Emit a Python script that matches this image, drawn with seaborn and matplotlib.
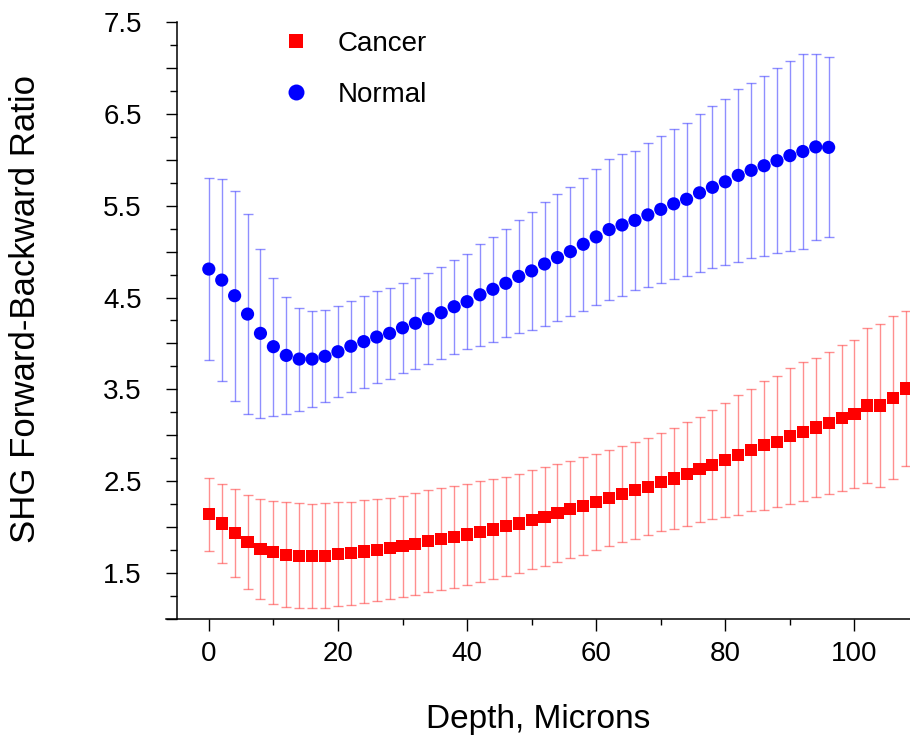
import matplotlib
matplotlib.use("Agg")
import matplotlib.pyplot as plt
from matplotlib.ticker import MultipleLocator, FuncFormatter
from matplotlib.lines import Line2D
import seaborn as sns
import pandas as pd

# ---------------- data ----------------
normal_depth = [0, 2, 4, 6, 8, 10, 12, 14, 16, 18, 20, 22, 24, 26, 28, 30, 32, 34,
                36, 38, 40, 42, 44, 46, 48, 50, 52, 54, 56, 58, 60, 62, 64, 66, 68,
                70, 72, 74, 76, 78, 80, 82, 84, 86, 88, 90, 92, 94, 96]
normal_mean = [4.81, 4.69, 4.52, 4.32, 4.11, 3.965, 3.87, 3.83, 3.83, 3.86,
               3.91, 3.97, 4.02, 4.07, 4.11, 4.17, 4.22, 4.27, 4.335, 4.40,
               4.455, 4.53, 4.59, 4.655, 4.73, 4.79, 4.865, 4.935, 5.00, 5.08,
               5.16, 5.24, 5.29, 5.34, 5.40, 5.46, 5.52, 5.57, 5.64, 5.70,
               5.76, 5.83, 5.885, 5.935, 5.99, 6.045, 6.09, 6.14, 6.135]
normal_sd = [0.99, 1.10, 1.145, 1.085, 0.92, 0.75, 0.635, 0.56, 0.52, 0.50,
             0.495, 0.495, 0.50, 0.50, 0.495, 0.49, 0.495, 0.495, 0.50, 0.51,
             0.52, 0.555, 0.57, 0.59, 0.615, 0.645, 0.67, 0.69, 0.70, 0.725,
             0.74, 0.77, 0.77, 0.76, 0.78, 0.80, 0.815, 0.835, 0.86, 0.88,
             0.905, 0.94, 0.955, 0.98, 1.005, 1.035, 1.06, 1.015, 0.98]

cancer_depth = [0, 2, 4, 6, 8, 10, 12, 14, 16, 18, 20, 22, 24, 26, 28, 30, 32, 34,
                36, 38, 40, 42, 44, 46, 48, 50, 52, 54, 56, 58, 60, 62, 64, 66, 68,
                70, 72, 74, 76, 78, 80, 82, 84, 86, 88, 90, 92, 94, 96, 98, 100,
                102, 104, 106, 108]
cancer_mean = [2.14, 2.04, 1.935, 1.84, 1.765, 1.725, 1.70, 1.69, 1.685, 1.69,
               1.705, 1.715, 1.735, 1.75, 1.77, 1.79, 1.815, 1.845, 1.87, 1.895,
               1.92, 1.95, 1.975, 2.01, 2.04, 2.08, 2.115, 2.155, 2.195, 2.23,
               2.275, 2.315, 2.36, 2.40, 2.44, 2.49, 2.53, 2.58, 2.63, 2.68,
               2.73, 2.785, 2.84, 2.89, 2.93, 2.99, 3.04, 3.085, 3.135, 3.19,
               3.235, 3.325, 3.325, 3.41, 3.51]
cancer_sd = [0.40, 0.43, 0.475, 0.515, 0.545, 0.565, 0.57, 0.57, 0.57, 0.57,
             0.567, 0.562, 0.558, 0.552, 0.552, 0.554, 0.554, 0.556, 0.554, 0.557,
             0.552, 0.548, 0.544, 0.539, 0.537, 0.537, 0.536, 0.534, 0.53, 0.532,
             0.526, 0.523, 0.523, 0.526, 0.53, 0.537, 0.553, 0.563, 0.572, 0.596,
             0.624, 0.65, 0.668, 0.70, 0.715, 0.738, 0.755, 0.76, 0.777, 0.793,
             0.804, 0.84, 0.886, 0.888, 0.84]

series_labels = ["Cancer", "Normal"]
x_label = "Depth, Microns"
y_label = "SHG Forward-Backward Ratio"

# ---------------- style ----------------
sns.set_style("ticks")
plt.rcParams["font.family"] = ["Liberation Sans", "DejaVu Sans"]
for key in ("text.color", "axes.labelcolor", "xtick.color", "ytick.color",
            "axes.edgecolor"):
    plt.rcParams[key] = "black"

fig = plt.figure(figsize=(9.1, 7.36), dpi=100)
ax = fig.add_axes([166 / 910, 117 / 736, 744 / 910, 597 / 736])

df_c = pd.DataFrame({"depth": cancer_depth, "ratio": cancer_mean, "sd": cancer_sd})
df_n = pd.DataFrame({"depth": normal_depth, "ratio": normal_mean, "sd": normal_sd})

# error bars
ax.errorbar(df_c["depth"], df_c["ratio"], yerr=df_c["sd"], fmt="none",
            ecolor=(1.0, 0.2, 0.2, 0.55), elinewidth=1.0, capsize=3.6,
            capthick=1.0, zorder=1)
ax.errorbar(df_n["depth"], df_n["ratio"], yerr=df_n["sd"], fmt="none",
            ecolor=(0.2, 0.2, 1.0, 0.55), elinewidth=1.0, capsize=3.6,
            capthick=1.0, zorder=1)

# markers
sns.scatterplot(data=df_c, x="depth", y="ratio", ax=ax, marker="s", s=76,
                color="#ff0000", edgecolor="none", linewidth=0, zorder=3,
                legend=False)
sns.scatterplot(data=df_n, x="depth", y="ratio", ax=ax, marker="o", s=90,
                color="#0000ff", edgecolor="none", linewidth=0, zorder=3,
                legend=False)

# axes limits / spines
ax.set_xlim(-6.63, 108.6)
ax.set_ylim(1.0, 7.5)
sns.despine(ax=ax)
ax.spines["left"].set_position(("data", -5))
for sp in ("left", "bottom"):
    ax.spines[sp].set_color("black")
    ax.spines[sp].set_linewidth(1.1)

ax.xaxis.set_major_locator(MultipleLocator(20))
ax.xaxis.set_minor_locator(MultipleLocator(10))
ax.yaxis.set_major_locator(MultipleLocator(0.5))
ax.yaxis.set_minor_locator(MultipleLocator(0.25))


def yfmt(v, pos):
    if abs((v * 2) % 2 - 1) < 1e-6:
        return f"{v:.1f}"
    return ""


ax.yaxis.set_major_formatter(FuncFormatter(yfmt))

ax.tick_params(axis="x", which="major", direction="out", length=8.6, width=1.0,
               pad=7, labelsize=20, colors="black")
ax.tick_params(axis="x", which="minor", direction="out", length=4.5, width=1.0)
ax.tick_params(axis="y", which="major", direction="out", length=8.0, width=1.0,
               pad=17, labelsize=20, colors="black")
ax.tick_params(axis="y", which="minor", direction="out", length=5.0, width=1.0)

ax.set_xlabel(x_label, fontsize=24, labelpad=27)
ax.set_ylabel(y_label, fontsize=25)
ax.yaxis.set_label_coords(-0.166, 0.519)

# legend
handles = [
    Line2D([], [], marker="s", linestyle="none", color="#ff0000",
           markersize=10, markeredgewidth=0),
    Line2D([], [], marker="o", linestyle="none", color="#0000ff",
           markersize=11.5, markeredgewidth=0),
]
ax.legend(handles, series_labels, loc="upper left",
          bbox_to_anchor=(285 / 910, (736 - 31) / 736),
          bbox_transform=fig.transFigure, frameon=False, fontsize=20,
          handlelength=0.8, handletextpad=1.1, labelspacing=0.9,
          borderpad=0, borderaxespad=0)

fig.savefig("out.png", dpi=100)
